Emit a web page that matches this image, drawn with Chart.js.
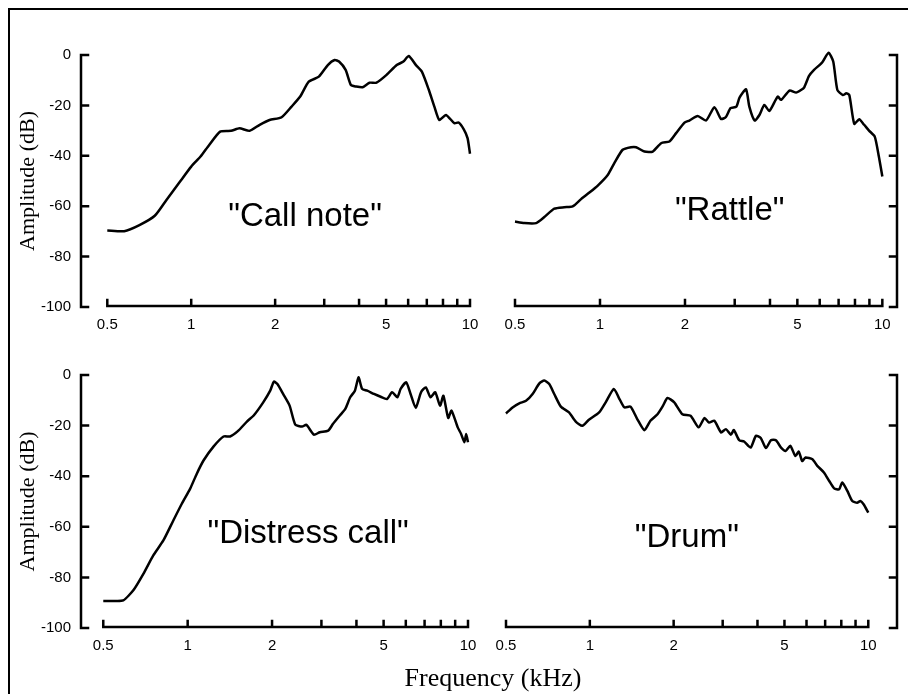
<!DOCTYPE html>
<html>
<head>
<meta charset="utf-8">
<title>Amplitude spectra</title>
<script src="https://cdn.jsdelivr.net/npm/chart.js@4.4.1/dist/chart.umd.min.js"></script>
<style>
  html, body { margin: 0; padding: 0; background: #fff; }
  #page { position: relative; width: 908px; height: 694px; overflow: hidden; }
  #page canvas { position: absolute; left: 0; top: 0; }
  #frame { position: absolute; left: 8px; top: 8px; width: 920px; height: 720px;
           border-left: 2px solid #000; border-top: 2px solid #000; }
  #xtitle { position: absolute; left: 493px; top: 665px; transform: translateX(-50%);
            font: 26px/26px "Liberation Serif", "Times New Roman", serif; white-space: nowrap; color: #000; }
</style>
</head>
<body>
<div id="page">
  <div id="frame"></div>
  <canvas id="c-call" width="908" height="694"></canvas>
  <canvas id="c-rattle" width="908" height="694"></canvas>
  <canvas id="c-distress" width="908" height="694"></canvas>
  <canvas id="c-drum" width="908" height="694"></canvas>
  <div id="xtitle">Frequency (kHz)</div>
</div>
<script>
// frequency in kHz, amplitude in dB
const callFreq = [0.5, 0.575, 0.652, 0.74, 0.815, 0.912, 1.0, 1.08, 1.16, 1.27, 1.39, 1.49, 1.62, 1.76, 1.91, 2.11, 2.29, 2.46, 2.64, 2.87, 3.09, 3.27, 3.39, 3.58, 3.74, 3.9, 4.12, 4.36, 4.62, 5.02, 5.46, 5.77, 6.03, 6.4, 6.72, 7.12, 7.45, 7.76, 8.2, 8.79, 9.1, 9.5, 9.8, 10];
const callDb   = [-69.6, -69.9, -67.5, -63.8, -57.5, -50.2, -44.3, -40.3, -35.7, -30.4, -30.1, -29.1, -30.1, -27.7, -25.8, -24.7, -20.5, -16.5, -10.6, -8.6, -4.0, -2.0, -2.6, -5.9, -11.9, -12.5, -12.8, -11.0, -11.0, -7.9, -4.0, -2.6, -0.4, -4.0, -6.6, -13.9, -20.5, -25.8, -23.8, -27.1, -26.8, -29.5, -33, -39.2];

const rattleFreq = [0.5, 0.539, 0.594, 0.635, 0.689, 0.747, 0.8, 0.857, 0.917, 0.982, 1.065, 1.124, 1.203, 1.288, 1.342, 1.437, 1.538, 1.646, 1.762, 1.86, 1.992, 2.073, 2.219, 2.375, 2.542, 2.683, 2.793, 2.9, 3.04, 3.12, 3.29, 3.38, 3.53, 3.67, 3.82, 3.98, 4.26, 4.38, 4.69, 4.95, 5.15, 5.29, 5.5, 5.73, 6.12, 6.45, 6.7, 6.93, 7.25, 7.45, 7.64, 7.95, 8.28, 8.62, 8.97, 9.4, 9.72, 10];
const rattleDb   = [-66.1, -66.7, -66.7, -64.3, -61.0, -60.4, -60.1, -57.2, -54.6, -51.8, -47.6, -42.9, -37.6, -36.6, -36.6, -38.3, -38.3, -35.0, -34.3, -31.0, -26.8, -26.0, -24.2, -26.0, -20.7, -25.4, -24.6, -21.1, -20.5, -16.9, -13.6, -20.5, -26.0, -23.8, -19.8, -22.2, -16.5, -17.8, -14.1, -14.9, -13.9, -12.8, -8.3, -5.9, -3.0, 0.9, -2.6, -13.9, -15.9, -15.2, -15.9, -27.3, -25.5, -27.7, -30.0, -32.4, -40.3, -48.2];

const distressFreq = [0.5, 0.542, 0.589, 0.64, 0.695, 0.754, 0.819, 0.889, 0.953, 1.02, 1.077, 1.139, 1.236, 1.343, 1.417, 1.51, 1.63, 1.72, 1.86, 1.97, 2.03, 2.09, 2.19, 2.31, 2.42, 2.56, 2.65, 2.82, 2.96, 3.17, 3.3, 3.49, 3.65, 3.8, 3.95, 4.07, 4.19, 4.37, 4.62, 4.88, 5.14, 5.36, 5.6, 5.75, 6.02, 6.24, 6.51, 6.8, 7.07, 7.35, 7.64, 7.95, 8.17, 8.5, 8.73, 9.19, 9.45, 9.71, 9.85, 10];
const distressDb   = [-89.3, -89.3, -89.1, -85.1, -78.6, -71.3, -65.4, -57.5, -50.9, -45, -39.1, -33.8, -28.3, -24.3, -24.3, -22.2, -18.3, -16, -10.8, -6.2, -2.6, -3.6, -7.5, -12.1, -19.6, -20.4, -19.7, -23.6, -22.6, -22, -19.3, -16, -13.4, -8.8, -6.2, -0.9, -5.5, -6.2, -7.5, -8.6, -9.5, -6.8, -8.8, -5.5, -2.9, -7.5, -13, -6.8, -4.9, -8.8, -6.8, -12.1, -8.2, -17, -14.1, -20.7, -23.3, -26.6, -23.3, -26.6];

const drumFreq = [0.5, 0.528, 0.558, 0.59, 0.623, 0.659, 0.686, 0.715, 0.745, 0.787, 0.842, 0.89, 0.94, 0.99, 1.08, 1.14, 1.22, 1.27, 1.33, 1.4, 1.48, 1.57, 1.65, 1.75, 1.83, 1.9, 2.01, 2.15, 2.3, 2.46, 2.58, 2.68, 2.8, 2.96, 3.08, 3.21, 3.29, 3.44, 3.58, 3.78, 3.95, 4.11, 4.29, 4.47, 4.66, 4.86, 5.05, 5.25, 5.47, 5.63, 5.79, 5.95, 6.3, 6.56, 6.94, 7.24, 7.54, 7.86, 8.06, 8.41, 8.76, 9.12, 9.37, 9.62, 10];
const drumDb   = [-15.2, -12.8, -11.2, -10.2, -7.5, -3.3, -2.2, -3.6, -7.5, -12.5, -14.8, -18.4, -20.1, -17.8, -14.8, -10.8, -5.5, -8.9, -12.8, -12.5, -17.4, -21.8, -18.1, -15.5, -12.2, -9.1, -10.8, -15.5, -16.1, -20.7, -17, -18.8, -18.1, -22.7, -21.4, -23.6, -21.8, -25.8, -26.3, -28.7, -24, -24.9, -28.9, -25.8, -25.8, -28.7, -30, -28, -32, -30.3, -34, -32.6, -33.3, -35.9, -38.6, -41.9, -44.8, -45.2, -42.5, -45.8, -49.8, -50.5, -49.8, -51.1, -54.4];

const X_TICKS  = [0.5, 1, 2, 3, 4, 5, 6, 7, 8, 9, 10];
const X_LABELS = [0.5, 1, 2, 5, 10];
const Y_MIN = -100, Y_MAX = 0, Y_STEP = 20;

const SANS  = '"Liberation Sans", Arial, sans-serif';
const SERIF = '"Liberation Serif", "Times New Roman", serif';

// axis lines only span the tick range, ticks point inward
const bracketAxes = {
  id: 'bracketAxes',
  afterDraw(chart) {
    const { ctx, chartArea, scales: { x, y } } = chart;
    const left = y.options.position === 'left';
    const ax = left ? chartArea.left : chartArea.right;
    const dir = left ? 1 : -1;
    const base = chartArea.bottom - 1;
    ctx.save();
    ctx.strokeStyle = '#000';
    ctx.lineWidth = 2.5;
    ctx.lineCap = 'square';
    ctx.beginPath();
    ctx.moveTo(ax, y.getPixelForValue(Y_MAX));
    ctx.lineTo(ax, y.getPixelForValue(Y_MIN));
    y.ticks.forEach(t => {
      const py = y.getPixelForValue(t.value);
      ctx.moveTo(ax, py);
      ctx.lineTo(ax + dir * 7, py);
    });
    ctx.moveTo(x.getPixelForValue(X_TICKS[0]), base);
    ctx.lineTo(x.getPixelForValue(X_TICKS[X_TICKS.length - 1]), base);
    X_TICKS.forEach(v => {
      const px = x.getPixelForValue(v);
      ctx.moveTo(px, base);
      ctx.lineTo(px, base - 6);
    });
    ctx.stroke();
    ctx.restore();
  }
};

const panelNote = {
  id: 'note',
  afterDatasetsDraw(chart, args, opts) {
    const { ctx, scales: { x, y } } = chart;
    ctx.save();
    ctx.font = '33px ' + SANS;
    ctx.fillStyle = '#000';
    ctx.textAlign = 'center';
    ctx.textBaseline = 'alphabetic';
    ctx.fillText(opts.text, x.getPixelForValue(opts.at[0]), y.getPixelForValue(opts.at[1]));
    ctx.restore();
  }
};

function makePanel(id, freq, db, opt) {
  const left = opt.side === 'left';
  new Chart(document.getElementById(id), {
    type: 'scatter',
    data: {
      datasets: [{
        data: freq.map((f, i) => ({ x: f, y: db[i] })),
        showLine: true,
        borderColor: '#000',
        borderWidth: 2.5,
        pointRadius: 0,
        tension: 0.2,
        clip: false,
      }],
    },
    options: {
      responsive: false,
      animation: false,
      events: [],
      layout: { padding: opt.pad },
      plugins: {
        legend: { display: false },
        tooltip: { enabled: false },
        note: { text: opt.note, at: opt.noteAt },
      },
      scales: {
        x: {
          type: 'logarithmic',
          min: opt.xMin, max: opt.xMax,
          bounds: 'data',
          grid: { display: false, drawTicks: false },
          border: { display: false },
          afterBuildTicks: s => { s.ticks = X_TICKS.map(v => ({ value: v })); },
          afterFit: s => { s.height = 40; },
          ticks: {
            autoSkip: false, maxRotation: 0, padding: 9, color: '#000',
            font: { family: SANS, size: 15 },
            callback: v => X_LABELS.includes(v) ? String(v) : '',
          },
        },
        y: {
          position: opt.side,
          min: Y_MIN, max: Y_MAX,
          grid: { display: false, drawTicks: false },
          border: { display: false },
          afterFit: s => { s.width = left ? 70 : 0; },
          ticks: {
            display: left, stepSize: Y_STEP, padding: 10, color: '#000',
            font: { family: SANS, size: 15 },
          },
          title: {
            display: left, text: 'Amplitude (dB)', color: '#000',
            font: { family: SERIF, size: 22 }, padding: { top: 4, bottom: 0 },
          },
        },
      },
    },
    plugins: [bracketAxes, panelNote],
  });
}

makePanel('c-call', callFreq, callDb, {
  side: 'left', xMin: 0.4024, xMax: 10,
  pad: { left: 11, top: 55, right: 438, bottom: 347 },
  note: '"Call note"', noteAt: [2.56, -67.7],
});
makePanel('c-rattle', rattleFreq, rattleDb, {
  side: 'right', xMin: 0.5, xMax: 11.27,
  pad: { left: 515, top: 55, right: 11, bottom: 347 },
  note: '"Rattle"', noteAt: [2.88, -65.4],
});
makePanel('c-distress', distressFreq, distressDb, {
  side: 'left', xMin: 0.4164, xMax: 10,
  pad: { left: 11, top: 375, right: 440, bottom: 26 },
  note: '"Distress call"', noteAt: [2.69, -66.4],
});
makePanel('c-drum', drumFreq, drumDb, {
  side: 'right', xMin: 0.5, xMax: 12.68,
  pad: { left: 506, top: 375, right: 11, bottom: 26 },
  note: '"Drum"', noteAt: [2.23, -68.0],
});
</script>
</body>
</html>
